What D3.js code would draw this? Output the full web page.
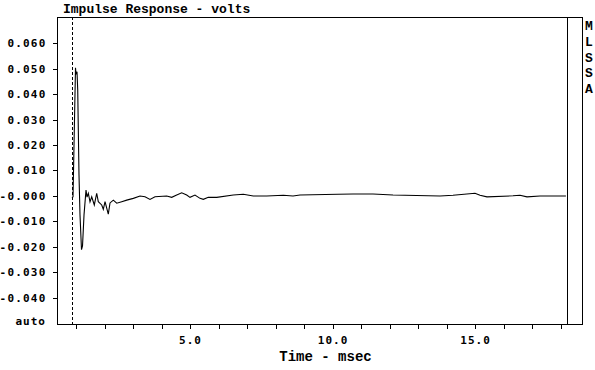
<!DOCTYPE html>
<html>
<head>
<meta charset="utf-8">
<script src="https://cdn.jsdelivr.net/npm/d3@7/dist/d3.min.js"></script>
<style>
  html, body { margin: 0; padding: 0; background: #fff; }
  svg { display: block; }
  text { fill: #000; }
</style>
</head>
<body>
<script>
// impulse response samples (time in msec, volts)
var timeMs = [0.86, 0.895, 0.947, 0.982, 1.0, 1.035, 1.06, 1.081, 1.105, 1.14, 1.193, 1.228, 1.281, 1.351,
  1.386, 1.432, 1.491, 1.551, 1.642, 1.726, 1.782, 1.902, 1.958, 2.018, 2.133, 2.193, 2.309, 2.428,
  2.604, 2.779, 3.011, 3.246, 3.421, 3.596, 3.772, 4.182, 4.358, 4.533, 4.709, 4.884, 5.0, 5.175,
  5.351, 5.467, 5.642, 5.937, 6.519, 6.87, 7.221, 7.691, 8.274, 8.614, 8.86, 10.193, 10.719, 11.421,
  12.123, 13.772, 14.228, 15.0, 15.175, 15.421, 16.333, 16.579, 16.825, 17.281, 18.19];
var volts = [-0.0008, -0.0004, 0.0300, 0.0503, 0.0480, 0.0488, 0.0417, 0.0260, 0.0082, -0.0075, -0.0212, -0.0197, -0.0075, 0.0023,
  -0.0005, 0.0010, -0.0024, -0.0004, -0.0036, 0.0010, -0.0023, -0.0036, -0.0053, -0.0023, -0.0072, -0.0028, -0.0017, -0.0029,
  -0.0023, -0.0017, -0.0010, -0.0001, -0.0004, -0.0014, -0.0004, -0.0001, -0.0006, 0.0003, 0.0012, 0.0003, -0.0006, 0.0003,
  -0.0010, -0.0014, -0.0006, -0.0006, 0.0003, 0.0006, -0.0001, -0.0001, 0.0002, -0.0001, 0.0003, 0.0006, 0.0007, 0.0007,
  0.0003, -0.0001, 0.0002, 0.0010, 0.0002, -0.0004, 0.0000, 0.0002, -0.0004, -0.0001, -0.0001];

var yTicks = [0.06, 0.05, 0.04, 0.03, 0.02, 0.01, 0, -0.01, -0.02, -0.03, -0.04];
var yTickLabels = ['0.060', '0.050', '0.040', '0.030', '0.020', '0.010', '-0.000', '-0.010', '-0.020', '-0.030', '-0.040'];
var xTicks = d3.range(1, 19);
var xTickLabels = ['5.0', '10.0', '15.0'];
var markerTimes = [0.86, 18.23];   // dashed start cursor, solid end cursor
var sideLabel = ['M', 'L', 'S', 'S', 'A'];

(function(window){
    'use strict'

    var width = 595, height = 370;
    var frame = {left: 57, right: 582, top: 17, bottom: 324};
    var labelFont = "'DejaVu Sans Mono', monospace";

    var x = d3.scaleLinear().domain([0.333, 18.754]).range([frame.left, frame.right]);
    var y = d3.scaleLinear().domain([-0.0504, 0.0703]).range([frame.bottom, frame.top]);

    var svg = d3.select('body').append('svg')
        .attr('width', width)
        .attr('height', height);

    svg.append('rect')
        .attr('width', width).attr('height', height)
        .attr('fill', '#fff');

    // frame
    svg.append('rect')
        .attr('x', frame.left + 0.5).attr('y', frame.top + 0.5)
        .attr('width', frame.right - frame.left).attr('height', frame.bottom - frame.top)
        .attr('fill', 'none').attr('stroke', '#000')
        .attr('shape-rendering', 'crispEdges');

    // y axis ticks and labels
    var yAxis = svg.append('g')
        .attr('transform', 'translate(' + (frame.left + 0.5) + ',0)')
        .call(d3.axisLeft(y).tickValues(yTicks).tickSize(5).tickPadding(6)
            .tickFormat(function(d, i){ return yTickLabels[i]; }));
    yAxis.select('.domain').remove();
    yAxis.selectAll('line').attr('stroke', '#000').attr('shape-rendering', 'crispEdges');
    yAxis.selectAll('text')
        .attr('font-family', labelFont).attr('font-size', 11).attr('font-weight', 'bold')
        .attr('letter-spacing', 1.2).attr('fill', '#000');

    svg.append('text')
        .attr('x', 46).attr('y', 325)
        .attr('text-anchor', 'end')
        .attr('font-family', labelFont).attr('font-size', 11).attr('font-weight', 'bold')
        .attr('letter-spacing', 1)
        .text('auto');

    // x axis ticks and labels
    var xAxis = svg.append('g')
        .attr('transform', 'translate(0,' + (frame.bottom + 0.5) + ')')
        .call(d3.axisBottom(x).tickValues(xTicks).tickSize(4).tickPadding(8)
            .tickFormat(function(d){
                var s = d.toFixed(1);
                return xTickLabels.indexOf(s) >= 0 ? s : '';
            }));
    xAxis.select('.domain').remove();
    xAxis.selectAll('line').attr('stroke', '#000').attr('shape-rendering', 'crispEdges');
    xAxis.selectAll('text')
        .attr('font-family', labelFont).attr('font-size', 11).attr('font-weight', 'bold')
        .attr('letter-spacing', 1).attr('fill', '#000');

    // cursors
    svg.append('line')
        .attr('x1', Math.round(x(markerTimes[0])) + 0.5).attr('x2', Math.round(x(markerTimes[0])) + 0.5)
        .attr('y1', frame.top).attr('y2', frame.bottom)
        .attr('stroke', '#000').attr('stroke-dasharray', '3,2')
        .attr('shape-rendering', 'crispEdges');
    svg.append('line')
        .attr('x1', Math.round(x(markerTimes[1])) + 0.5).attr('x2', Math.round(x(markerTimes[1])) + 0.5)
        .attr('y1', frame.top).attr('y2', frame.bottom)
        .attr('stroke', '#000')
        .attr('shape-rendering', 'crispEdges');

    // trace
    var line = d3.line()
        .x(function(d){ return x(d[0]); })
        .y(function(d){ return y(d[1]); });
    svg.append('path')
        .datum(d3.zip(timeMs, volts))
        .attr('d', line)
        .attr('fill', 'none')
        .attr('stroke', '#000')
        .attr('stroke-width', 1.1);

    // titles
    svg.append('text')
        .attr('x', 63).attr('y', 13)
        .attr('font-family', "'Liberation Mono', monospace").attr('font-size', 13)
        .attr('font-weight', 'bold')
        .text('Impulse Response - volts');

    svg.append('text')
        .attr('x', (frame.left + frame.right) / 2 + 6).attr('y', 361)
        .attr('text-anchor', 'middle')
        .attr('font-family', "'Liberation Mono', monospace").attr('font-size', 14)
        .attr('font-weight', 'bold')
        .text('Time - msec');

    svg.append('g').selectAll('text')
        .data(sideLabel)
        .enter().append('text')
        .attr('x', 589).attr('y', function(d, i){ return 30 + i * 15.75; })
        .attr('text-anchor', 'middle')
        .attr('font-family', "'Liberation Mono', monospace").attr('font-size', 13)
        .attr('font-weight', 'bold')
        .text(function(d){ return d; });

})(window);
</script>
</body>
</html>
